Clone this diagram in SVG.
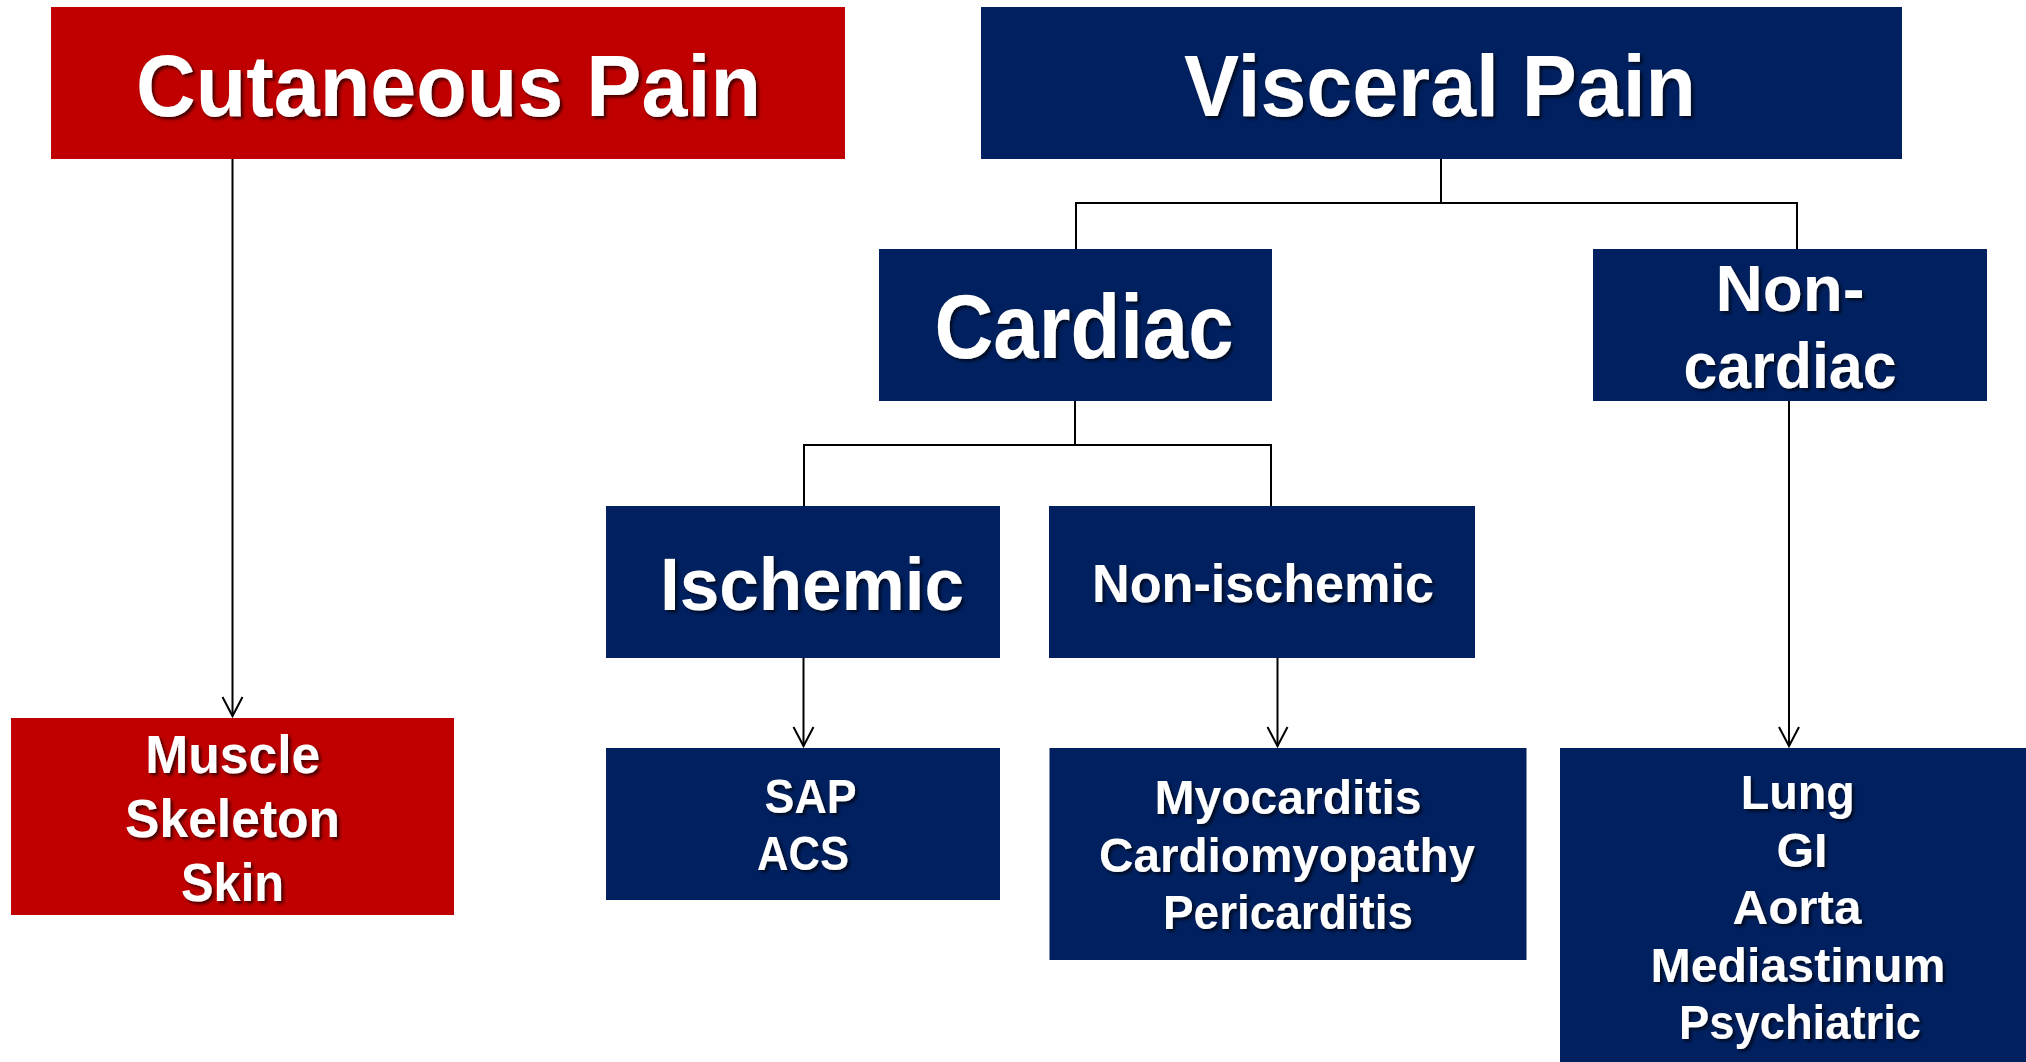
<svg xmlns="http://www.w3.org/2000/svg" width="2026" height="1062" viewBox="0 0 2026 1062">
<style>
.red{fill:#C00000}
.navy{fill:#002060}
.t{font-family:"Liberation Sans","Noto Sans","DejaVu Sans",sans-serif;font-weight:bold;fill:#FFFFFF;text-anchor:middle;filter:url(#sh)}
.c{fill:none;stroke:#000;stroke-width:2}
</style>
<defs>
<filter id="sh" x="-10%" y="-20%" width="130%" height="150%">
<feDropShadow dx="2.5" dy="2.5" stdDeviation="1.5" flood-color="#000" flood-opacity="0.65"/>
</filter>
<marker id="arr" markerUnits="userSpaceOnUse" markerWidth="24" markerHeight="24" viewBox="0 0 24 24" refX="20" refY="11" orient="auto">
<path d="M1,1 L20,11 L1,21" fill="none" stroke="#000" stroke-width="2"/>
</marker>
</defs>
<g id="connectors">
<path class="c" d="M232.5,159 V716" marker-end="url(#arr)"/>
<path class="c" d="M1441,159 V203 M1076,249 V203 H1797 V249"/>
<path class="c" d="M1075,401 V445 M804,506 V445 H1271 V506"/>
<path class="c" d="M803.5,658 V746" marker-end="url(#arr)"/>
<path class="c" d="M1277.5,658 V746" marker-end="url(#arr)"/>
<path class="c" d="M1789,401 V746" marker-end="url(#arr)"/>
</g>
<g id="cutaneous">
<rect class="red" x="51" y="7" width="794" height="152"/>
<text class="t" x="448.5" y="116" font-size="88" textLength="625" lengthAdjust="spacingAndGlyphs">Cutaneous Pain</text>
</g>
<g id="visceral">
<rect class="navy" x="981" y="7" width="921" height="152"/>
<text class="t" x="1440" y="116" font-size="88" textLength="512" lengthAdjust="spacingAndGlyphs">Visceral Pain</text>
</g>
<g id="cardiac">
<rect class="navy" x="879" y="249" width="393" height="152"/>
<text class="t" x="1084" y="358" font-size="90" textLength="299" lengthAdjust="spacingAndGlyphs">Cardiac</text>
</g>
<g id="noncardiac">
<rect class="navy" x="1593" y="249" width="394" height="152"/>
<text class="t" x="1790" y="311" font-size="64" textLength="149" lengthAdjust="spacingAndGlyphs">Non-</text>
<text class="t" x="1790" y="388" font-size="64" textLength="213" lengthAdjust="spacingAndGlyphs">cardiac</text>
</g>
<g id="ischemic">
<rect class="navy" x="606" y="506" width="394" height="152"/>
<text class="t" x="812" y="610" font-size="74" textLength="304" lengthAdjust="spacingAndGlyphs">Ischemic</text>
</g>
<g id="nonischemic">
<rect class="navy" x="1049" y="506" width="426" height="152"/>
<text class="t" x="1263" y="602" font-size="54" textLength="342" lengthAdjust="spacingAndGlyphs">Non-ischemic</text>
</g>
<g id="musculo">
<rect class="red" x="11" y="718" width="443" height="197"/>
<text class="t" x="232.7" y="773" font-size="54" textLength="175" lengthAdjust="spacingAndGlyphs">Muscle</text>
<text class="t" x="232.6" y="837" font-size="54" textLength="215" lengthAdjust="spacingAndGlyphs">Skeleton</text>
<text class="t" x="232.6" y="901" font-size="54" textLength="103" lengthAdjust="spacingAndGlyphs">Skin</text>
</g>
<g id="ischemic-list">
<rect class="navy" x="606" y="748" width="394" height="152"/>
<text class="t" x="810.6" y="813" font-size="49" textLength="92" lengthAdjust="spacingAndGlyphs">SAP</text>
<text class="t" x="803" y="870" font-size="49" textLength="92" lengthAdjust="spacingAndGlyphs">ACS</text>
</g>
<g id="nonischemic-list">
<rect class="navy" x="1049.5" y="748" width="477" height="212"/>
<text class="t" x="1288" y="814" font-size="49" textLength="267" lengthAdjust="spacingAndGlyphs">Myocarditis</text>
<text class="t" x="1287" y="872" font-size="49" textLength="376" lengthAdjust="spacingAndGlyphs">Cardiomyopathy</text>
<text class="t" x="1288" y="929" font-size="49" textLength="250" lengthAdjust="spacingAndGlyphs">Pericarditis</text>
</g>
<g id="noncardiac-list">
<rect class="navy" x="1560" y="748" width="466" height="314"/>
<text class="t" x="1797.7" y="809" font-size="49" textLength="114" lengthAdjust="spacingAndGlyphs">Lung</text>
<text class="t" x="1802" y="867" font-size="49" textLength="51" lengthAdjust="spacingAndGlyphs">GI</text>
<text class="t" x="1797" y="924" font-size="49" textLength="129" lengthAdjust="spacingAndGlyphs">Aorta</text>
<text class="t" x="1798" y="982" font-size="49" textLength="295" lengthAdjust="spacingAndGlyphs">Mediastinum</text>
<text class="t" x="1800" y="1039" font-size="49" textLength="242" lengthAdjust="spacingAndGlyphs">Psychiatric</text>
</g>
</svg>
